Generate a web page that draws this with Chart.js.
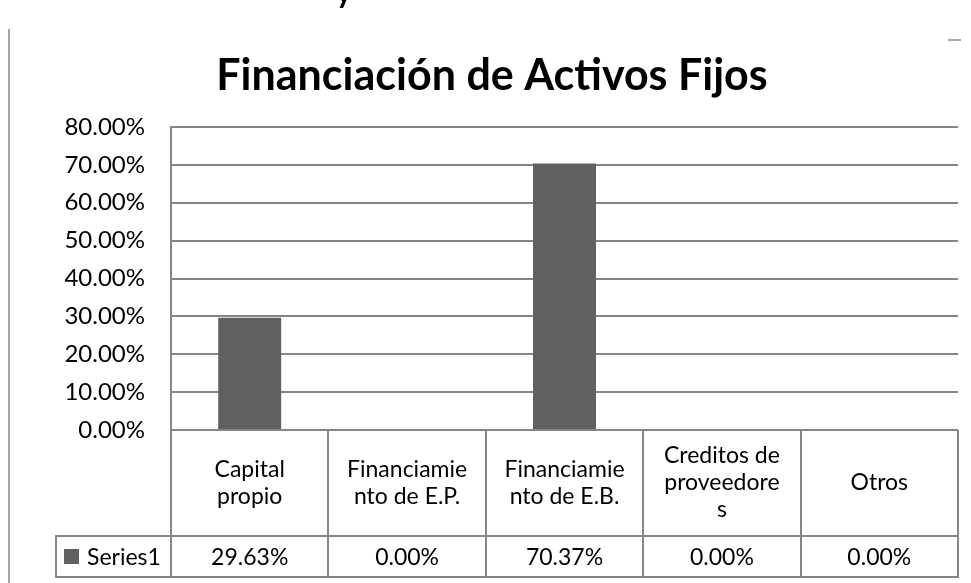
<!DOCTYPE html>
<html>
<head>
<meta charset="utf-8">
<script src="https://cdn.jsdelivr.net/npm/chart.js@4/dist/chart.umd.min.js"></script>
<style>
  html, body { margin: 0; padding: 0; background: #fff; }
  #wrap { width: 971px; height: 583px; position: relative; }
</style>
</head>
<body>
<div id="wrap"><canvas id="chart" width="971" height="583"></canvas></div>
<script>
// Datos del gráfico
const titulo = 'Financiación de Activos Fijos';
const categorias = [
    ['Capital', 'propio'],
    ['Financiamie', 'nto de E.P.'],
    ['Financiamie', 'nto de E.B.'],
    ['Creditos de', 'proveedore', 's'],
    ['Otros']
];
const serieNombre = 'Series1';
const serieValores = [0.2963, 0.0, 0.7037, 0.0, 0.0];
const ejeMin = 0;
const ejeMax = 0.8;
const ejePaso = 0.1;

const gris = '#868686';
const fuente = 'Lato, "Open Sans", sans-serif';
const formatoPct = v => (v * 100).toFixed(2) + '%';

// Tabla de datos debajo del gráfico (como en Excel)
const tablaDatos = {
    id: 'tablaDatos',
    afterDraw(chart) {
        const ctx = chart.ctx;
        const area = chart.chartArea;
        const x = chart.scales.x;
        const n = categorias.length;
        const ancho = (area.right - area.left) / n;
        const filaCat = 106;
        const filaVal = 41;
        const yTop = area.bottom;
        const yMid = yTop + filaCat;
        const yBot = yMid + filaVal;
        const leyIzq = 56;

        ctx.save();
        ctx.strokeStyle = gris;
        ctx.lineWidth = 2;
        ctx.beginPath();
        // líneas verticales
        for (let i = 0; i <= n; i++) {
            const xx = Math.round(area.left + i * ancho);
            ctx.moveTo(xx, yTop);
            ctx.lineTo(xx, yBot);
        }
        // horizontales
        ctx.moveTo(area.left, yMid);
        ctx.lineTo(area.right, yMid);
        ctx.moveTo(leyIzq, yMid);
        ctx.lineTo(area.left, yMid);
        ctx.moveTo(leyIzq, yBot);
        ctx.lineTo(area.right + 1, yBot);
        ctx.moveTo(leyIzq, yMid - 1);
        ctx.lineTo(leyIzq, yBot + 1);
        ctx.stroke();

        ctx.fillStyle = '#000';
        ctx.font = '23px ' + fuente;
        ctx.textAlign = 'center';
        ctx.textBaseline = 'middle';
        const altoLinea = 27;
        categorias.forEach((lineas, i) => {
            const cx = x.getPixelForValue(i);
            const cy = yTop + filaCat / 2;
            const y0 = cy - (lineas.length - 1) * altoLinea / 2;
            lineas.forEach((t, j) => ctx.fillText(t, cx, y0 + j * altoLinea));
            ctx.fillText(formatoPct(serieValores[i]), cx, yMid + filaVal / 2 + 1);
        });

        // clave de leyenda
        ctx.fillStyle = '#606060';
        ctx.fillRect(64, yMid + 13, 15, 15);
        ctx.fillStyle = '#000';
        ctx.textAlign = 'left';
        ctx.fillText(serieNombre, 87, yMid + filaVal / 2 + 1);
        ctx.restore();
    },
    beforeDraw(chart) {
        const ctx = chart.ctx;
        ctx.save();
        // borde de la página a la izquierda
        ctx.fillStyle = '#a6a6a6';
        ctx.fillRect(8, 29, 2, 554);
        ctx.fillRect(948, 39, 13, 2);
        // resto de texto cortado arriba
        ctx.fillStyle = '#000';
        ctx.font = 'bold 30px ' + fuente;
        ctx.textBaseline = 'alphabetic';
        ctx.fillText('y', 336, 3);
        ctx.restore();
    }
};

new Chart(document.getElementById('chart'), {
    type: 'bar',
    data: {
        labels: categorias,
        datasets: [{
            label: serieNombre,
            data: serieValores,
            backgroundColor: '#606060',
            borderWidth: 0,
            categoryPercentage: 1.0,
            barPercentage: 0.4
        }]
    },
    options: {
        responsive: false,
        animation: false,
        layout: { padding: { left: 26, right: 13, top: 0, bottom: 6 } },
        plugins: {
            legend: { display: false },
            tooltip: { enabled: false },
            title: {
                display: true,
                text: titulo,
                color: '#000',
                font: { family: fuente, size: 43, weight: 'bold' },
                padding: { top: 50, bottom: 25.4 }
            }
        },
        scales: {
            x: {
                grid: { display: false, drawTicks: false },
                border: { display: false },
                ticks: { display: false },
                afterFit(scale) { scale.height = 147; }
            },
            y: {
                min: ejeMin,
                max: ejeMax,
                grid: { color: gris, lineWidth: 2, drawTicks: false },
                border: { color: gris, width: 2 },
                ticks: {
                    stepSize: ejePaso,
                    padding: 26,
                    color: '#000',
                    font: { family: fuente, size: 24 },
                    callback: v => formatoPct(v)
                },
                afterFit(scale) { scale.width = 145; }
            }
        }
    },
    plugins: [tablaDatos]
});
</script>
</body>
</html>
